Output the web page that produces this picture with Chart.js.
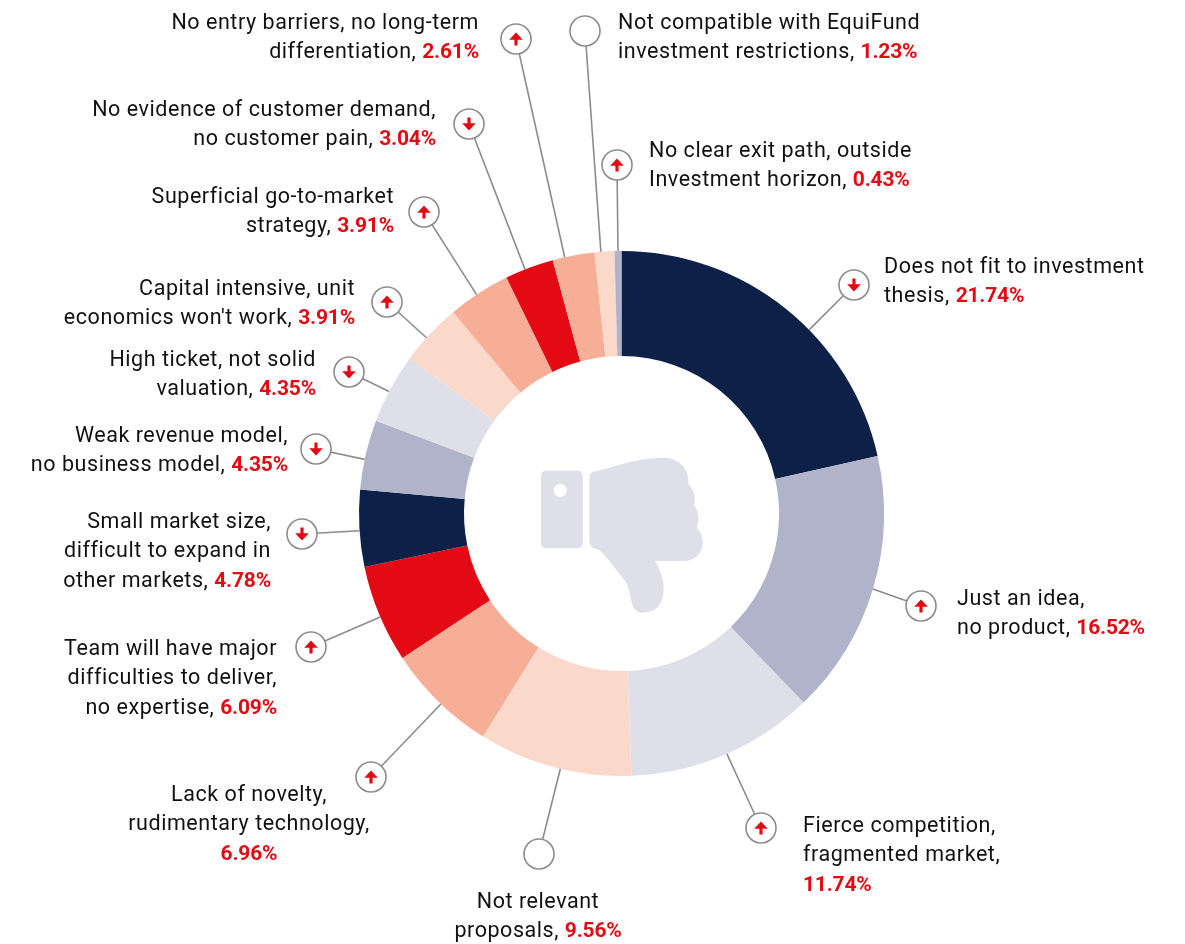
<!DOCTYPE html>
<html><head><meta charset="utf-8">
<style>html,body{margin:0;padding:0;background:#fff}canvas{display:block}</style>
<script src="https://cdn.jsdelivr.net/npm/chart.js@4"></script></head>
<body><canvas id="c" width="1185" height="944"></canvas>
<script>
const categories = ["Does not fit to investment thesis","Just an idea, no product","Fierce competition, fragmented market","Not relevant proposals","Lack of novelty, rudimentary technology","Team will have major difficulties to deliver, no expertise","Small market size, difficult to expand in other markets","Weak revenue model, no business model","High ticket, not solid valuation","Capital intensive, unit economics won't work","Superficial go-to-market strategy","No evidence of customer demand, no customer pain","No entry barriers, no long-term differentiation","Not compatible with EquiFund investment restrictions","No clear exit path, outside Investment horizon"];
const values = [21.74,16.52,11.74,9.56,6.96,6.09,4.78,4.35,4.35,3.91,3.91,3.04,2.61,1.23,0.43];
const colors = ["#0d2048","#b0b3c9","#dfdfea","#fad8ca","#f7ae96","#e30a14","#0d2048","#b0b3c9","#dfdfea","#fad8ca","#f7ae96","#e30a14","#f7ae96","#fad8ca","#b0b3c9"];
const trends = ["down","up","up","none","up","up","down","down","down","up","up","down","up","none","up"];
const labelLines = [
 ["Does not fit to investment","thesis, "],["Just an idea,","no product, "],["Fierce competition,","fragmented market,",""],
 ["Not relevant","proposals, "],["Lack of novelty,","rudimentary technology,",""],["Team will have major","difficulties to deliver,","no expertise, "],
 ["Small market size,","difficult to expand in","other markets, "],["Weak revenue model,","no business model, "],["High ticket, not solid","valuation, "],
 ["Capital intensive, unit","economics won't work, "],["Superficial go-to-market","strategy, "],["No evidence of customer demand,","no customer pain, "],
 ["No entry barriers, no long-term","differentiation, "],["Not compatible with EquiFund","investment restrictions, "],["No clear exit path, outside","Investment horizon, "]];
const badgeX = [854,921,761,539,371,311,302,316,349,387,424,469,516,585,617];
const badgeY = [285,606,828,854,777,647,534,449,372,302,212,124,39,31,165];
const textAlign = ["left","left","left","center","center","right","right","right","right","right","right","right","right","left","left"];
const textX = [884,957,803,538,249,277,271,288,316,355,394,436,479,618,649];
const textY = [273,605,832,908,801,655,528,442,366,295,203,116,29,29,157];
const anchorFrac = [0.59,0.5,0.485,0.46,0.47,0.47,0.47,0.43,0.45,0.42,0.46,0.41,0.29,0.32,0.5];
const FONT = "Roboto", SIZE = 21.5, SPACING = 0.55, BOLD_SIZE = 21, BOLD_SPACING = -0.2, LH = 29.3;
const GREY = "#8c8c8c", RED = "#e30a14", INK = "#111111", ICON = "#dfdfea";

function thumb(ctx){
  ctx.save(); ctx.translate(520,440); ctx.scale(1/3,1/3); ctx.fillStyle = ICON;
  ctx.beginPath(); ctx.roundRect(63,92,125,233,14); ctx.fill();
  ctx.beginPath();
  ctx.moveTo(208,115); ctx.quadraticCurveTo(208,96,228,93);
  ctx.bezierCurveTo(270,85,340,55,430,53);
  ctx.bezierCurveTo(480,53,510,90,505,132);
  ctx.bezierCurveTo(520,145,530,175,521,195);
  ctx.bezierCurveTo(535,210,540,240,530,262);
  ctx.bezierCurveTo(545,280,550,300,548,312);
  ctx.bezierCurveTo(545,345,520,363,490,363);
  ctx.lineTo(405,363);
  ctx.bezierCurveTo(420,390,432,415,431,450);
  ctx.bezierCurveTo(430,495,405,518,365,518);
  ctx.bezierCurveTo(340,518,335,490,330,465);
  ctx.bezierCurveTo(325,435,318,425,305,410);
  ctx.bezierCurveTo(285,385,260,350,238,330);
  ctx.quadraticCurveTo(208,325,208,300);
  ctx.closePath(); ctx.fill();
  ctx.fillStyle = "#fff"; ctx.beginPath(); ctx.arc(121,151,19.5,0,Math.PI*2); ctx.fill();
  ctx.restore();
}
function arrow(ctx,x,y,dir){
  const s = dir==="up"?1:-1;
  ctx.save(); ctx.translate(x,y); ctx.scale(1,s); ctx.fillStyle = RED;
  ctx.beginPath(); ctx.moveTo(0,-6.5); ctx.lineTo(6.8,0.8); ctx.lineTo(1.6,0.8); ctx.lineTo(1.6,6.5);
  ctx.lineTo(-1.6,6.5); ctx.lineTo(-1.6,0.8); ctx.lineTo(-6.8,0.8); ctx.closePath(); ctx.fill();
  ctx.restore();
}
const callouts = {
  id:"callouts",
  afterDatasetsDraw(chart){
    const ctx = chart.ctx, meta = chart.getDatasetMeta(0);
    thumb(ctx);
    ctx.save();
    ctx.textBaseline = "alphabetic"; ctx.textAlign = "left";
    const reg = ()=>{ctx.font = `400 ${SIZE}px ${FONT}`; ctx.letterSpacing = SPACING+"px";};
    const bold = ()=>{ctx.font = `700 ${BOLD_SIZE}px ${FONT}`; ctx.letterSpacing = BOLD_SPACING+"px";};
    meta.data.forEach((arc,i)=>{
      const p = arc.getProps(["x","y","startAngle","endAngle","outerRadius"],true);
      const a = p.startAngle+(p.endAngle-p.startAngle)*anchorFrac[i];
      const ex = p.x+Math.cos(a)*p.outerRadius, ey = p.y+Math.sin(a)*p.outerRadius;
      const bx = badgeX[i], by = badgeY[i];
      ctx.strokeStyle = GREY; ctx.lineWidth = 1.6;
      ctx.beginPath(); ctx.moveTo(ex,ey); ctx.lineTo(bx,by); ctx.stroke();
      ctx.fillStyle = "#fff"; ctx.beginPath(); ctx.arc(bx,by,15,0,Math.PI*2); ctx.fill(); ctx.stroke();
      if(trends[i]!=="none") arrow(ctx,bx,by,trends[i]);
      const pct = values[i].toFixed(2)+"%";
      const lines = labelLines[i];
      lines.forEach((t,k)=>{
        const y = textY[i]+k*LH;
        const last = k===lines.length-1;
        reg(); const w1 = ctx.measureText(t).width;
        bold(); const w2 = last?ctx.measureText(pct).width:0;
        const total = w1+w2;
        let x = textX[i];
        if(textAlign[i]==="right") x -= total; else if(textAlign[i]==="center") x -= total/2;
        reg(); ctx.fillStyle = INK;
        if(t) ctx.fillText(t,x,y);
        if(last){ bold(); ctx.fillStyle = RED; ctx.fillText(pct,x+w1,y); }
      });
    });
    ctx.restore();
  }
};
new Chart(document.getElementById("c"),{
  type:"doughnut",
  data:{labels:categories,datasets:[{data:values,backgroundColor:colors,borderWidth:0}]},
  options:{responsive:false,animation:false,cutout:"60%",
    layout:{padding:{left:359,right:301,top:251,bottom:168}},
    events:[],
    plugins:{legend:{display:false},tooltip:{enabled:false}}},
  plugins:[callouts]
});
</script></body></html>
